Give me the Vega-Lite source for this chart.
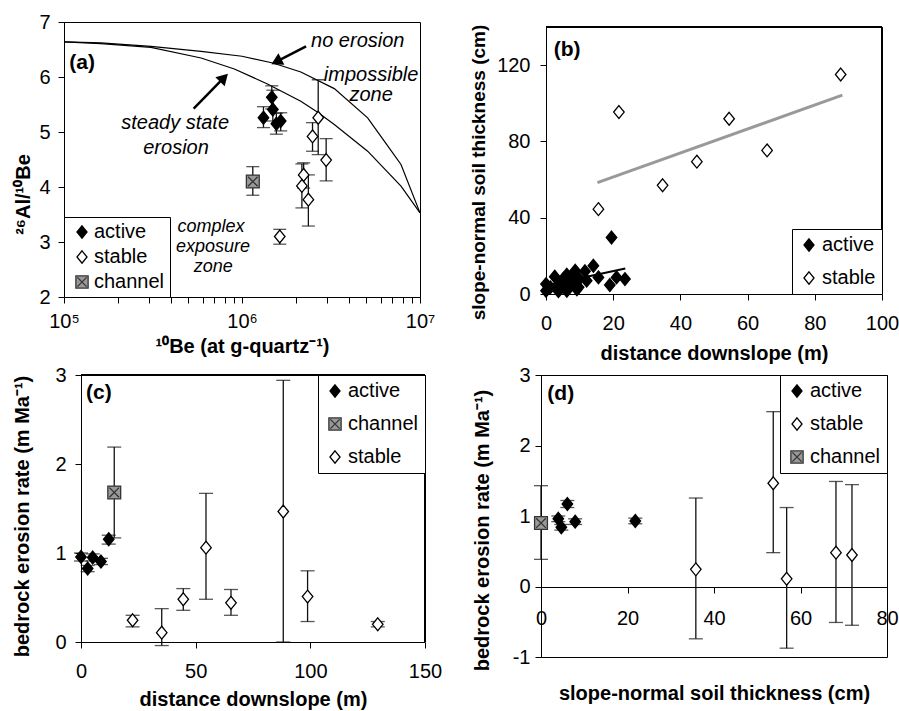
{
  "$schema": "https://vega.github.io/schema/vega-lite/v6.json",
  "background": "white",
  "padding": {"left": 12, "top": 11, "right": 0, "bottom": 3},
  "config": {
    "font": "Liberation Sans",
    "view": {"stroke": "black", "strokeWidth": 1},
    "axis": {"grid": false, "domainColor": "black", "domainWidth": 1, "tickColor": "black", "tickSize": 6, "labelColor": "black", "labelFontSize": 20, "labelFont": "Liberation Sans", "titleFont": "Liberation Sans", "titleColor": "black", "titleFontSize": 20, "titleFontWeight": "bold", "labelFlush": false, "labelOverlap": false},
    "legend": {"labelFont": "Liberation Sans", "labelColor": "black"},
    "text": {"font": "Liberation Sans"}
  },
  "resolve": {"scale": {"x": "independent", "y": "independent", "shape": "independent", "fill": "independent", "stroke": "independent"}, "legend": {"shape": "independent", "fill": "independent", "stroke": "independent"}},
  "spacing": 1,
  "vconcat": [
    {
      "hconcat": [
        {
          "width": 356, "height": 275,
          "data": {"values": [
            {"x": 1320000, "y": 5.26, "lo": 5.08, "hi": 5.46, "type": "active"},
            {"x": 1470000, "y": 5.63, "lo": 5.42, "hi": 5.84, "type": "active"},
            {"x": 1490000, "y": 5.41, "lo": 5.2, "hi": 5.76, "type": "active"},
            {"x": 1560000, "y": 5.15, "lo": 4.96, "hi": 5.34, "type": "active"},
            {"x": 1650000, "y": 5.2, "lo": 5.02, "hi": 5.35, "type": "active"},
            {"x": 2680000, "y": 5.26, "lo": 4.59, "hi": 5.95, "type": "stable"},
            {"x": 2490000, "y": 4.92, "lo": 4.65, "hi": 5.17, "type": "stable"},
            {"x": 2970000, "y": 4.49, "lo": 4.11, "hi": 4.88, "type": "stable"},
            {"x": 2220000, "y": 4.22, "lo": 3.98, "hi": 4.44, "type": "stable"},
            {"x": 2170000, "y": 4.02, "lo": 3.62, "hi": 4.42, "type": "stable"},
            {"x": 2360000, "y": 3.77, "lo": 3.29, "hi": 4.22, "type": "stable"},
            {"x": 1630000, "y": 3.1, "lo": 2.96, "hi": 3.23, "type": "stable"},
            {"x": 1150000, "y": 4.1, "lo": 3.85, "hi": 4.37, "type": "channel"}
          ]},
          "layer": [
            {
              "data": {"values": [
                {"curve": "no", "x": 100000, "y": 6.637}, {"curve": "no", "x": 161000, "y": 6.619}, {"curve": "no", "x": 308000, "y": 6.558}, {"curve": "no", "x": 589000, "y": 6.467}, {"curve": "no", "x": 1000000, "y": 6.377}, {"curve": "no", "x": 1490000, "y": 6.255}, {"curve": "no", "x": 2140000, "y": 6.092}, {"curve": "no", "x": 3300000, "y": 5.789}, {"curve": "no", "x": 5080000, "y": 5.257}, {"curve": "no", "x": 6300000, "y": 4.833}, {"curve": "no", "x": 7820000, "y": 4.409}, {"curve": "no", "x": 10000000, "y": 3.53},
                {"curve": "ss", "x": 100000, "y": 6.637}, {"curve": "ss", "x": 161000, "y": 6.607}, {"curve": "ss", "x": 308000, "y": 6.54}, {"curve": "ss", "x": 589000, "y": 6.346}, {"curve": "ss", "x": 906000, "y": 6.146}, {"curve": "ss", "x": 1390000, "y": 5.874}, {"curve": "ss", "x": 2140000, "y": 5.559}, {"curve": "ss", "x": 2660000, "y": 5.36}, {"curve": "ss", "x": 3300000, "y": 5.136}, {"curve": "ss", "x": 5080000, "y": 4.651}, {"curve": "ss", "x": 7820000, "y": 4.016}, {"curve": "ss", "x": 10000000, "y": 3.53}
              ]},
              "mark": {"type": "line", "color": "black", "strokeWidth": 1.2},
              "encoding": {
                "x": {"field": "x", "type": "quantitative", "scale": {"type": "log", "domain": [100000, 10000000], "nice": false},
                  "axis": {"title": "¹⁰Be (at g-quartz⁻¹)", "values": [100000, 200000, 300000, 400000, 500000, 600000, 700000, 800000, 900000, 1000000, 2000000, 3000000, 4000000, 5000000, 6000000, 7000000, 8000000, 9000000, 10000000], "labelExpr": "datum.value == 100000 ? '10⁵' : datum.value == 1000000 ? '10⁶' : datum.value == 10000000 ? '10⁷' : ''", "labelPadding": 8, "titlePadding": 5, "labelOverlap": false}},
                "y": {"field": "y", "type": "quantitative", "scale": {"domain": [2, 7], "nice": false, "zero": false},
                  "axis": {"title": "²⁶Al/¹⁰Be", "values": [2, 3, 4, 5, 6, 7], "labelExpr": "'' + datum.value", "labelPadding": 8, "titlePadding": 5, "titleY": 172, "labelOverlap": false}},
                "detail": {"field": "curve", "type": "nominal"}
              }
            },
            {
              "data": {"values": [{"x": 2290000, "y": 6.558, "x2": 1560000, "y2": 6.28}, {"x": 535000, "y": 5.426, "x2": 792000, "y2": 5.987}]},
              "mark": {"type": "rule", "color": "black", "strokeWidth": 2.5},
              "encoding": {"x": {"field": "x", "type": "quantitative"}, "y": {"field": "y", "type": "quantitative"}, "x2": {"field": "x2"}, "y2": {"field": "y2"}}
            },
            {
              "data": {"values": [{"x": 1560000, "y": 6.28}]},
              "mark": {"type": "point", "shape": "triangle-up", "filled": true, "color": "black", "opacity": 1, "size": 170, "angle": 242.7},
              "encoding": {"x": {"field": "x", "type": "quantitative"}, "y": {"field": "y", "type": "quantitative"}}
            },
            {
              "data": {"values": [{"x": 792000, "y": 5.987}]},
              "mark": {"type": "point", "shape": "triangle-up", "filled": true, "color": "black", "opacity": 1, "size": 170, "angle": 44.4},
              "encoding": {"x": {"field": "x", "type": "quantitative"}, "y": {"field": "y", "type": "quantitative"}}
            },
            {
              "mark": {"type": "errorbar", "ticks": true, "size": 13, "thickness": 1.3, "color": "#111"},
              "encoding": {"x": {"field": "x", "type": "quantitative"}, "y": {"field": "lo", "type": "quantitative", "title": "²⁶Al/¹⁰Be"}, "y2": {"field": "hi"}}
            },
            {
              "mark": {"type": "point", "size": 165, "strokeWidth": 1.3, "opacity": 1},
              "encoding": {
                "x": {"field": "x", "type": "quantitative"},
                "y": {"field": "y", "type": "quantitative"},
                "shape": {"field": "type", "type": "nominal", "scale": {"domain": ["active", "stable", "channel"], "range": ["M0,-1L0.82,0L0,1L-0.82,0Z", "M0,-1L0.82,0L0,1L-0.82,0Z", "M-1,-1L1,-1L1,1L-1,1Z M-0.75,-0.75L0.75,0.75 M0.75,-0.75L-0.75,0.75"]},
                  "legend": {"title": null, "orient": "bottom-left", "offset": 0, "padding": 5, "rowPadding": 5, "symbolOffset": 3, "labelOffset": 2, "labelFontSize": 20, "symbolSize": 150, "symbolStrokeWidth": 1.3, "strokeColor": "black", "fillColor": "white"}},
                "fill": {"field": "type", "type": "nominal", "scale": {"domain": ["active", "stable", "channel"], "range": ["black", "white", "#999999"]},
                  "legend": {"title": null, "orient": "bottom-left", "offset": 0, "padding": 5, "rowPadding": 5, "symbolOffset": 3, "labelOffset": 2, "labelFontSize": 20, "symbolSize": 150, "symbolStrokeWidth": 1.3, "strokeColor": "black", "fillColor": "white"}},
                "stroke": {"field": "type", "type": "nominal", "scale": {"domain": ["active", "stable", "channel"], "range": ["black", "black", "#333333"]},
                  "legend": {"title": null, "orient": "bottom-left", "offset": 0, "padding": 5, "rowPadding": 5, "symbolOffset": 3, "labelOffset": 2, "labelFontSize": 20, "symbolSize": 150, "symbolStrokeWidth": 1.3, "strokeColor": "black", "fillColor": "white"}}
              }
            },
            {
              "data": {"values": [
                {"x": 4470000, "y": 6.66, "label": "no erosion"},
                {"x": 5310000, "y": 6.044, "label": "impossible"},
                {"x": 5310000, "y": 5.668, "label": "zone"},
                {"x": 421000, "y": 5.166, "label": "steady state"},
                {"x": 426000, "y": 4.712, "label": "erosion"}
              ]},
              "mark": {"type": "text", "fontStyle": "italic", "fontSize": 20, "align": "center", "baseline": "middle", "color": "black"},
              "encoding": {"x": {"field": "x", "type": "quantitative"}, "y": {"field": "y", "type": "quantitative"}, "text": {"field": "label"}}
            },
            {
              "data": {"values": [
                {"x": 670000, "y": 3.265, "label": "complex"},
                {"x": 687000, "y": 2.908, "label": "exposure"},
                {"x": 690000, "y": 2.553, "label": "zone"}
              ]},
              "mark": {"type": "text", "fontStyle": "italic", "fontSize": 18, "align": "center", "baseline": "middle", "color": "black"},
              "encoding": {"x": {"field": "x", "type": "quantitative"}, "y": {"field": "y", "type": "quantitative"}, "text": {"field": "label"}}
            },
            {
              "data": {"values": [{"x": 107000, "y": 6.255, "label": "(a)"}]},
              "mark": {"type": "text", "fontWeight": "bold", "fontSize": 21, "align": "left", "baseline": "middle", "color": "black"},
              "encoding": {"x": {"field": "x", "type": "quantitative"}, "y": {"field": "y", "type": "quantitative"}, "text": {"field": "label"}}
            }
          ]
        },
        {
          "width": 336, "height": 272,
          "view": {"stroke": null},
          "data": {"values": [
            {"x": 87.7, "y": 115.1, "type": "stable"},
            {"x": 21.7, "y": 95.4, "type": "stable"},
            {"x": 54.5, "y": 91.9, "type": "stable"},
            {"x": 65.8, "y": 75.3, "type": "stable"},
            {"x": 44.9, "y": 69.4, "type": "stable"},
            {"x": 34.7, "y": 57.0, "type": "stable"},
            {"x": 15.6, "y": 44.5, "type": "stable"},
            {"x": 0, "y": 5.2, "type": "active"}, {"x": 0, "y": 1.7, "type": "active"}, {"x": 1.3, "y": 3.5, "type": "active"}, {"x": 2.6, "y": 9.1, "type": "active"}, {"x": 3.3, "y": 3.3, "type": "active"}, {"x": 3.7, "y": 1.5, "type": "active"}, {"x": 4.2, "y": 6.1, "type": "active"}, {"x": 4.7, "y": 5.2, "type": "active"}, {"x": 5.2, "y": 8.0, "type": "active"}, {"x": 6.2, "y": 10.1, "type": "active"}, {"x": 6.2, "y": 1.7, "type": "active"}, {"x": 6.7, "y": 4.2, "type": "active"}, {"x": 7.2, "y": 8.7, "type": "active"}, {"x": 7.7, "y": 6.1, "type": "active"}, {"x": 8.7, "y": 12.2, "type": "active"}, {"x": 9.2, "y": 2.5, "type": "active"}, {"x": 9.7, "y": 3.5, "type": "active"}, {"x": 9.9, "y": 7.8, "type": "active"}, {"x": 11.6, "y": 11.9, "type": "active"}, {"x": 12.1, "y": 7.0, "type": "active"}, {"x": 14.1, "y": 14.8, "type": "active"}, {"x": 15.6, "y": 8.7, "type": "active"}, {"x": 19.0, "y": 4.7, "type": "active"}, {"x": 19.5, "y": 29.6, "type": "active"}, {"x": 21.0, "y": 8.7, "type": "active"}, {"x": 23.5, "y": 7.8, "type": "active"}
          ]},
          "layer": [
            {
              "mark": {"type": "point", "size": 165, "strokeWidth": 1.3, "opacity": 1},
              "encoding": {
                "x": {"field": "x", "type": "quantitative", "scale": {"domain": [0, 100], "nice": false}, "axis": {"title": "distance downslope (m)", "values": [0, 20, 40, 60, 80, 100], "labelExpr": "'' + datum.value", "labelPadding": 13, "titlePadding": 10, "labelOverlap": false}},
                "y": {"field": "y", "type": "quantitative", "scale": {"domain": [0, 140], "range": [272, 5], "nice": false}, "axis": {"title": "slope-normal soil thickness (cm)", "titleFontSize": 19, "values": [0, 20, 40, 60, 80, 100, 120, 140], "labelExpr": "'' + datum.value", "labelPadding": 10, "titlePadding": 8, "titleY": 150, "labelOverlap": false}},
                "shape": {"field": "type", "type": "nominal", "scale": {"domain": ["active", "stable"], "range": ["M0,-1L0.82,0L0,1L-0.82,0Z", "M0,-1L0.82,0L0,1L-0.82,0Z"]},
                  "legend": {"title": null, "orient": "bottom-right", "offset": 0, "padding": 6, "rowPadding": 13, "symbolOffset": 1, "labelOffset": 3, "labelFontSize": 20, "symbolSize": 150, "symbolStrokeWidth": 1.3, "strokeColor": "black", "fillColor": "white"}},
                "fill": {"field": "type", "type": "nominal", "scale": {"domain": ["active", "stable"], "range": ["black", "white"]},
                  "legend": {"title": null, "orient": "bottom-right", "offset": 0, "padding": 6, "rowPadding": 13, "symbolOffset": 1, "labelOffset": 3, "labelFontSize": 20, "symbolSize": 150, "symbolStrokeWidth": 1.3, "strokeColor": "black", "fillColor": "white"}},
                "stroke": {"field": "type", "type": "nominal", "scale": {"domain": ["active", "stable"], "range": ["black", "black"]},
                  "legend": {"title": null, "orient": "bottom-right", "offset": 0, "padding": 6, "rowPadding": 13, "symbolOffset": 1, "labelOffset": 3, "labelFontSize": 20, "symbolSize": 150, "symbolStrokeWidth": 1.3, "strokeColor": "black", "fillColor": "white"}}
              }
            },
            {
              "mark": {"type": "rule", "color": "black", "strokeWidth": 1},
              "encoding": {"x": {"datum": 0, "type": "quantitative"}, "x2": {"datum": 100}, "y": {"datum": 140, "type": "quantitative"}}
            },
            {
              "mark": {"type": "rule", "color": "black", "strokeWidth": 1},
              "encoding": {"x": {"datum": 100, "type": "quantitative"}, "y": {"datum": 0, "type": "quantitative"}, "y2": {"datum": 140}}
            },
            {
              "data": {"values": [{"x": 15.3, "y": 58.4}, {"x": 88.2, "y": 104.3}]},
              "mark": {"type": "line", "color": "#999999", "strokeWidth": 3},
              "encoding": {"x": {"field": "x", "type": "quantitative"}, "y": {"field": "y", "type": "quantitative"}}
            },
            {
              "data": {"values": [{"x": 0, "y": 4.5}, {"x": 23.6, "y": 13.4}]},
              "mark": {"type": "line", "color": "black", "strokeWidth": 2},
              "encoding": {"x": {"field": "x", "type": "quantitative"}, "y": {"field": "y", "type": "quantitative"}}
            },
            {
              "data": {"values": [{"x": 2.3, "y": 128, "label": "(b)"}]},
              "mark": {"type": "text", "fontWeight": "bold", "fontSize": 21, "align": "left", "baseline": "middle", "color": "black"},
              "encoding": {"x": {"field": "x", "type": "quantitative"}, "y": {"field": "y", "type": "quantitative"}, "text": {"field": "label"}}
            }
          ]
        }
      ],
      "spacing": 33,
      "resolve": {"scale": {"x": "independent", "y": "independent", "shape": "independent", "fill": "independent", "stroke": "independent"}, "legend": {"shape": "independent", "fill": "independent", "stroke": "independent"}}
    },
    {
      "hconcat": [
        {
          "width": 361, "height": 267,
          "view": {"stroke": null},
          "data": {"values": [
            {"x": 0, "y": 0.956, "lo": 0.91, "hi": 1.0, "type": "active"},
            {"x": 2.9, "y": 0.825, "lo": 0.79, "hi": 0.86, "type": "active"},
            {"x": 5.1, "y": 0.949, "lo": 0.91, "hi": 0.99, "type": "active"},
            {"x": 8.7, "y": 0.904, "lo": 0.87, "hi": 0.94, "type": "active"},
            {"x": 12.1, "y": 1.155, "lo": 1.1, "hi": 1.2, "type": "active"},
            {"x": 14.5, "y": 1.68, "lo": 1.17, "hi": 2.19, "type": "channel"},
            {"x": 22.5, "y": 0.244, "lo": 0.17, "hi": 0.3, "type": "stable"},
            {"x": 35.2, "y": 0.105, "lo": -0.04, "hi": 0.375, "type": "stable"},
            {"x": 44.6, "y": 0.48, "lo": 0.356, "hi": 0.6, "type": "stable"},
            {"x": 54.5, "y": 1.06, "lo": 0.48, "hi": 1.67, "type": "stable"},
            {"x": 65.4, "y": 0.44, "lo": 0.3, "hi": 0.59, "type": "stable"},
            {"x": 88.2, "y": 1.466, "lo": 0, "hi": 2.94, "type": "stable"},
            {"x": 98.8, "y": 0.51, "lo": 0.23, "hi": 0.8, "type": "stable"},
            {"x": 129.4, "y": 0.199, "lo": 0.17, "hi": 0.23, "type": "stable"}
          ]},
          "layer": [
            {
              "mark": {"type": "errorbar", "ticks": true, "size": 14, "thickness": 1.3, "color": "#111"},
              "encoding": {
                "x": {"field": "x", "type": "quantitative", "scale": {"domain": [0, 150], "range": [17, 361], "nice": false}, "axis": {"title": "distance downslope (m)", "values": [0, 50, 100, 150], "labelExpr": "'' + datum.value", "labelPadding": 13, "titlePadding": 8, "labelOverlap": false}},
                "y": {"field": "lo", "type": "quantitative", "scale": {"domain": [0, 3], "nice": false}, "axis": {"title": "bedrock erosion rate (m Ma⁻¹)", "values": [0, 1, 2, 3], "labelExpr": "'' + datum.value", "offset": -17, "labelPadding": 9, "titlePadding": 22, "titleY": 141, "labelOverlap": false}},
                "y2": {"field": "hi"}
              }
            },
            {
              "mark": {"type": "rule", "color": "black", "strokeWidth": 1},
              "encoding": {"x": {"datum": 0, "type": "quantitative"}, "x2": {"datum": 150}, "y": {"datum": 3, "type": "quantitative"}}
            },
            {
              "mark": {"type": "rule", "color": "black", "strokeWidth": 1},
              "encoding": {"x": {"datum": 150, "type": "quantitative"}, "y": {"datum": 0, "type": "quantitative"}, "y2": {"datum": 3}}
            },
            {
              "mark": {"type": "point", "size": 165, "strokeWidth": 1.3, "opacity": 1},
              "encoding": {
                "x": {"field": "x", "type": "quantitative"},
                "y": {"field": "y", "type": "quantitative"},
                "shape": {"field": "type", "type": "nominal", "scale": {"domain": ["active", "channel", "stable"], "range": ["M0,-1L0.82,0L0,1L-0.82,0Z", "M-1,-1L1,-1L1,1L-1,1Z M-0.75,-0.75L0.75,0.75 M0.75,-0.75L-0.75,0.75", "M0,-1L0.82,0L0,1L-0.82,0Z"]},
                  "legend": {"title": null, "orient": "top-right", "offset": 0, "padding": 6, "rowPadding": 13, "symbolOffset": 1, "labelOffset": 3, "labelFontSize": 20, "symbolSize": 150, "symbolStrokeWidth": 1.3, "strokeColor": "black", "fillColor": "white"}},
                "fill": {"field": "type", "type": "nominal", "scale": {"domain": ["active", "channel", "stable"], "range": ["black", "#999999", "white"]},
                  "legend": {"title": null, "orient": "top-right", "offset": 0, "padding": 6, "rowPadding": 13, "symbolOffset": 1, "labelOffset": 3, "labelFontSize": 20, "symbolSize": 150, "symbolStrokeWidth": 1.3, "strokeColor": "black", "fillColor": "white"}},
                "stroke": {"field": "type", "type": "nominal", "scale": {"domain": ["active", "channel", "stable"], "range": ["black", "#333333", "black"]},
                  "legend": {"title": null, "orient": "top-right", "offset": 0, "padding": 6, "rowPadding": 13, "symbolOffset": 1, "labelOffset": 3, "labelFontSize": 20, "symbolSize": 150, "symbolStrokeWidth": 1.3, "strokeColor": "black", "fillColor": "white"}}
              }
            },
            {
              "data": {"values": [{"x": 2.2, "y": 2.8, "label": "(c)"}]},
              "mark": {"type": "text", "fontWeight": "bold", "fontSize": 21, "align": "left", "baseline": "middle", "color": "black"},
              "encoding": {"x": {"field": "x", "type": "quantitative"}, "y": {"field": "y", "type": "quantitative"}, "text": {"field": "label"}}
            }
          ]
        },
        {
          "width": 346, "height": 282,
          "data": {"values": [
            {"x": 0, "y": 0.9, "lo": 0.385, "hi": 1.43, "type": "channel"},
            {"x": 4.0, "y": 0.96, "lo": 0.92, "hi": 1.0, "type": "active"},
            {"x": 4.7, "y": 0.84, "lo": 0.8, "hi": 0.88, "type": "active"},
            {"x": 6.1, "y": 1.17, "lo": 1.12, "hi": 1.22, "type": "active"},
            {"x": 7.9, "y": 0.92, "lo": 0.88, "hi": 0.96, "type": "active"},
            {"x": 21.8, "y": 0.93, "lo": 0.89, "hi": 0.97, "type": "active"},
            {"x": 35.8, "y": 0.243, "lo": -0.742, "hi": 1.255, "type": "stable"},
            {"x": 53.7, "y": 1.465, "lo": 0.48, "hi": 2.48, "type": "stable"},
            {"x": 56.8, "y": 0.109, "lo": -0.875, "hi": 1.12, "type": "stable"},
            {"x": 68.2, "y": 0.48, "lo": -0.51, "hi": 1.49, "type": "stable"},
            {"x": 71.9, "y": 0.447, "lo": -0.55, "hi": 1.445, "type": "stable"}
          ]},
          "layer": [
            {
              "mark": {"type": "errorbar", "ticks": true, "size": 14, "thickness": 1.3, "color": "#111"},
              "encoding": {
                "x": {"field": "x", "type": "quantitative", "scale": {"domain": [0, 80], "nice": false}, "axis": {"title": "slope-normal soil thickness (cm)", "values": [0, 20, 40, 60, 80], "labelExpr": "'' + datum.value", "offset": -70, "labelPadding": 15, "titlePadding": 55, "labelOverlap": false}},
                "y": {"field": "lo", "type": "quantitative", "scale": {"domain": [-1, 3], "nice": false, "zero": false}, "axis": {"title": "bedrock erosion rate (m Ma⁻¹)", "values": [-1, 0, 1, 2, 3], "labelExpr": "'' + datum.value", "labelPadding": 5, "titlePadding": 20, "titleY": 155, "labelOverlap": false}},
                "y2": {"field": "hi"}
              }
            },
            {
              "mark": {"type": "point", "size": 165, "strokeWidth": 1.3, "opacity": 1},
              "encoding": {
                "x": {"field": "x", "type": "quantitative"},
                "y": {"field": "y", "type": "quantitative"},
                "shape": {"field": "type", "type": "nominal", "scale": {"domain": ["active", "stable", "channel"], "range": ["M0,-1L0.82,0L0,1L-0.82,0Z", "M0,-1L0.82,0L0,1L-0.82,0Z", "M-1,-1L1,-1L1,1L-1,1Z M-0.75,-0.75L0.75,0.75 M0.75,-0.75L-0.75,0.75"]},
                  "legend": {"title": null, "orient": "top-right", "offset": 0, "padding": 6, "rowPadding": 13, "symbolOffset": 1, "labelOffset": 3, "labelFontSize": 20, "symbolSize": 150, "symbolStrokeWidth": 1.3, "strokeColor": "black", "fillColor": "white"}},
                "fill": {"field": "type", "type": "nominal", "scale": {"domain": ["active", "stable", "channel"], "range": ["black", "white", "#999999"]},
                  "legend": {"title": null, "orient": "top-right", "offset": 0, "padding": 6, "rowPadding": 13, "symbolOffset": 1, "labelOffset": 3, "labelFontSize": 20, "symbolSize": 150, "symbolStrokeWidth": 1.3, "strokeColor": "black", "fillColor": "white"}},
                "stroke": {"field": "type", "type": "nominal", "scale": {"domain": ["active", "stable", "channel"], "range": ["black", "black", "#333333"]},
                  "legend": {"title": null, "orient": "top-right", "offset": 0, "padding": 6, "rowPadding": 13, "symbolOffset": 1, "labelOffset": 3, "labelFontSize": 20, "symbolSize": 150, "symbolStrokeWidth": 1.3, "strokeColor": "black", "fillColor": "white"}}
              }
            },
            {
              "data": {"values": [{"x": 1.46, "y": 2.73, "label": "(d)"}]},
              "mark": {"type": "text", "fontWeight": "bold", "fontSize": 21, "align": "left", "baseline": "middle", "color": "black"},
              "encoding": {"x": {"field": "x", "type": "quantitative"}, "y": {"field": "y", "type": "quantitative"}, "text": {"field": "label"}}
            }
          ]
        }
      ],
      "spacing": 29,
      "resolve": {"scale": {"x": "independent", "y": "independent", "shape": "independent", "fill": "independent", "stroke": "independent"}, "legend": {"shape": "independent", "fill": "independent", "stroke": "independent"}}
    }
  ]
}
